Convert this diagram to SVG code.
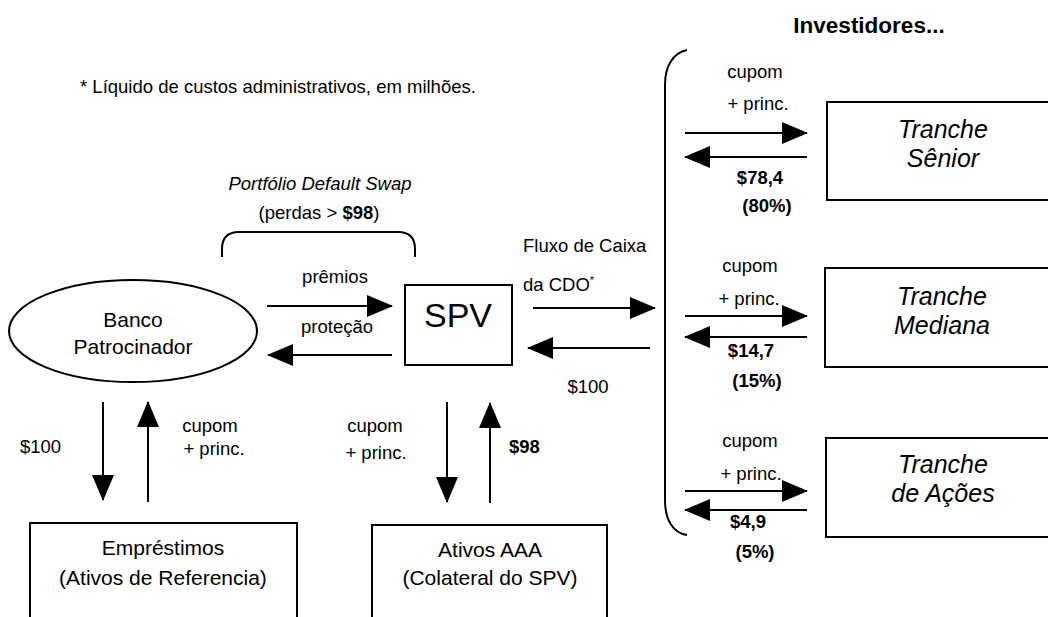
<svg xmlns="http://www.w3.org/2000/svg" width="1048" height="617" viewBox="0 0 1048 617">
<defs>
<marker id="ah" markerUnits="userSpaceOnUse" markerWidth="26" markerHeight="22" refX="25" refY="11" orient="auto">
<path d="M0,0 L26,11 L0,22 Z" fill="#000"/>
</marker>
<style>
text{font-family:"Liberation Sans",Arial,sans-serif;fill:#000}
.s{font-size:18.5px}
.c{text-anchor:middle}
.b{font-weight:bold}
.i{font-style:italic}
.m{font-size:21px}
.t{font-size:25px;font-style:italic;text-anchor:middle}
.box{fill:none;stroke:#000;stroke-width:2}
.ar{fill:none;stroke:#000;stroke-width:2;marker-end:url(#ah)}
</style>
</defs>
<rect width="1048" height="617" fill="#fff"/>

<text class="s" x="80" y="93">* Líquido de custos administrativos, em milhões.</text>
<text class="b c" x="869" y="33" style="font-size:22.5px">Investidores...</text>

<g id="pds">
<text class="s i c" x="320" y="190">Portfólio Default Swap</text>
<text class="s c" x="319" y="219">(perdas &gt; <tspan class="b">$98</tspan>)</text>
<path class="box" d="M222,257 V249 Q222,232 239,232 H398 Q415,232 415,249 V257"/>
</g>

<g id="banco">
<ellipse class="box" cx="133" cy="331" rx="124" ry="51"/>
<text class="m c" x="133" y="327">Banco</text>
<text class="m c" x="133" y="354">Patrocinador</text>
</g>

<g id="spv">
<rect class="box" x="405" y="285" width="107" height="80"/>
<text class="c" x="458" y="327" style="font-size:34px">SPV</text>
</g>

<g id="emprestimos">
<path class="box" d="M30,620 V523 H297 V620"/>
<text class="m c" x="163" y="555">Empréstimos</text>
<text class="m c" x="163" y="585">(Ativos de Referencia)</text>
</g>

<g id="ativos">
<path class="box" d="M372,620 V525 H607 V620"/>
<text class="m c" x="490" y="557">Ativos AAA</text>
<text class="m c" x="490" y="585">(Colateral do SPV)</text>
</g>

<g id="investidores">
<path class="box" d="M687,50 C673,53 665,66 665,85 V500 C665,520 673,533 687,535"/>
</g>

<g id="senior">
<path class="box" d="M1050,102 H827 V200 H1050"/>
<text class="t" x="943" y="138">Tranche</text>
<text class="t" x="943" y="167">Sênior</text>
</g>

<g id="mediana">
<path class="box" d="M1050,268 H825 V367 H1050"/>
<text class="t" x="942" y="305">Tranche</text>
<text class="t" x="942" y="334">Mediana</text>
</g>

<g id="acoes">
<path class="box" d="M1050,438 H826 V537 H1050"/>
<text class="t" x="943" y="473">Tranche</text>
<text class="t" x="943" y="502">de Ações</text>
</g>

<g id="connectors">
<path class="ar" d="M267,306 H392"/>
<path class="ar" d="M392,355 H268"/>
<path class="ar" d="M533,308 H655"/>
<path class="ar" d="M650,348 H528"/>
<path class="ar" d="M103,402 V500"/>
<path class="ar" d="M148,502 V402"/>
<path class="ar" d="M447,402 V502"/>
<path class="ar" d="M490,503 V403"/>
<path class="ar" d="M685,133 H807"/>
<path class="ar" d="M807,157 H685"/>
<path class="ar" d="M685,316 H807"/>
<path class="ar" d="M807,337 H685"/>
<path class="ar" d="M685,491 H807"/>
<path class="ar" d="M807,510 H685"/>
</g>

<g id="labels">
<text class="s c" x="335" y="283">prêmios</text>
<text class="s c" x="337" y="333">proteção</text>
<text class="s" x="523" y="252">Fluxo de Caixa</text>
<text class="s" x="523" y="291">da CDO<tspan style="font-size:11px" dy="-7">*</tspan></text>
<text class="s c" x="588" y="393">$100</text>
<text class="s" x="20" y="453">$100</text>
<text class="s c" x="210" y="432">cupom</text>
<text class="s c" x="214" y="455">+ princ.</text>
<text class="s c" x="375" y="432">cupom</text>
<text class="s c" x="376" y="459">+ princ.</text>
<text class="s b" x="509" y="453">$98</text>

<text class="s c" x="755" y="78">cupom</text>
<text class="s c" x="758" y="110">+ princ.</text>
<text class="s b c" x="760" y="184">$78,4</text>
<text class="s b c" x="767" y="212">(80%)</text>

<text class="s c" x="750" y="272">cupom</text>
<text class="s c" x="749" y="305">+ princ.</text>
<text class="s b c" x="751" y="357">$14,7</text>
<text class="s b c" x="757" y="387">(15%)</text>

<text class="s c" x="750" y="447">cupom</text>
<text class="s c" x="751" y="480">+ princ.</text>
<text class="s b c" x="748" y="528">$4,9</text>
<text class="s b c" x="755" y="558">(5%)</text>
</g>
</svg>
